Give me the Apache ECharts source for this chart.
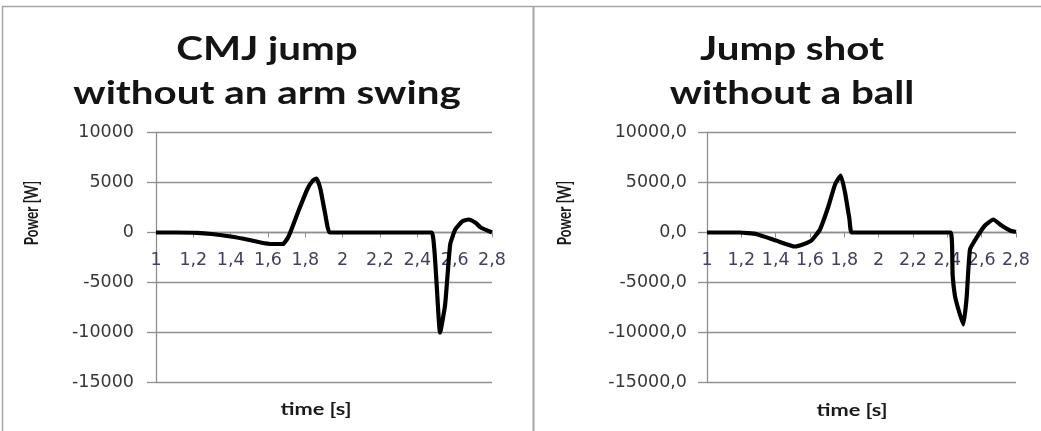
<!DOCTYPE html>
<html>
<head>
<meta charset="utf-8">
<script src="https://cdn.jsdelivr.net/npm/echarts@6/dist/echarts.min.js"></script>
<style>
  html, body { margin: 0; padding: 0; background: #fff; }
  #chart { width: 1041px; height: 431px; }
</style>
</head>
<body>
<div id="chart"></div>
<script>
// CMJ jump without an arm swing: time [s] and power [W]
const cmjTime  = [1.0, 1.1, 1.22, 1.3, 1.4, 1.5, 1.56, 1.62, 1.68, 1.71, 1.76, 1.81, 1.84, 1.86, 1.88, 1.905, 1.93, 2.0, 2.2, 2.4, 2.478, 2.522, 2.549, 2.576, 2.603, 2.64, 2.674, 2.71, 2.74, 2.8];
const cmjPower = [0, 0, -30, -150, -400, -750, -1000, -1150, -1150, -400, 2000, 4300, 5200, 5400, 4400, 2000, 0, 0, 0, 0, 0, -10000, -7200, -1200, 300, 1100, 1300, 1000, 500, 0];

// Jump shot without a ball: time [s] and power [W]
const shotTime  = [1.0, 1.19, 1.29, 1.406, 1.513, 1.562, 1.61, 1.658, 1.707, 1.746, 1.779, 1.804, 1.83, 1.843, 2.0, 2.2, 2.419, 2.431, 2.444, 2.463, 2.493, 2.512, 2.532, 2.571, 2.619, 2.668, 2.716, 2.765, 2.8];
const shotPower = [0, 0, -170, -830, -1400, -1170, -770, 300, 2600, 4800, 5700, 4000, 1300, 0, 0, 0, 0, -4300, -6300, -7600, -9200, -6600, -1700, -500, 700, 1300, 700, 200, 50];

// Axis ticks
const timeTicks  = { min: 1, max: 2.8, step: 0.2 };
const powerTicks = { min: -15000, max: 10000, step: 5000 };

// Panel headings, one entry per line
const titleLines = [['CMJ jump', 'without an arm swing'], ['Jump shot', 'without a ball']];
const powerName = 'Power [W]';
const timeName = 'time [s]';

const pair = (xs, ys) => xs.map((x, i) => [x, ys[i]]);
const headFont = 'Lato, "Open Sans", sans-serif';
const tickFont = '"DejaVu Sans", Verdana, sans-serif';
const gridColor = '#8f8f8f';

// Plot boxes (pixels); the time axis sits on the zero power line
const GRID_TOP = 132.5, GRID_BOTTOM = 48.5, H = 431;
const plotH = H - GRID_TOP - GRID_BOTTOM;
const zeroShift = plotH * (0 - powerTicks.min) / (powerTicks.max - powerTicks.min);

function xAxisFor(gridIndex) {
  return {
    type: 'value', gridIndex, position: 'bottom', offset: -zeroShift,
    min: timeTicks.min, max: timeTicks.max, interval: timeTicks.step,
    axisLine: { onZero: false, lineStyle: { color: gridColor, width: 1.3 } },
    axisTick: { show: true, length: 5, lineStyle: { color: gridColor } },
    splitLine: { show: false },
    axisLabel: {
      margin: 19, color: '#453f5c', fontFamily: tickFont, fontSize: 17.5,
      hideOverlap: false,
      formatter: v => String(+v.toFixed(1)).replace('.', ',')
    }
  };
}

function yAxisFor(gridIndex, decimals, margin) {
  return {
    type: 'value', gridIndex,
    min: powerTicks.min, max: powerTicks.max, interval: powerTicks.step,
    axisLine: { show: true, lineStyle: { color: gridColor, width: 1.3 } },
    axisTick: { show: true, length: 9, lineStyle: { color: gridColor, width: 1.3 } },
    splitLine: { show: true, lineStyle: { color: gridColor, width: 1.3 } },
    axisLabel: {
      margin, color: '#383838', fontFamily: tickFont, fontSize: 17.5,
      formatter: v => decimals ? v.toFixed(1).replace('.', ',') : String(v)
    }
  };
}

function headingText(text, x, y) {
  return { type: 'text', x, y, scaleX: 1.26,
    style: { text, fontFamily: headFont, fontWeight: 'bold', fontSize: 32, fill: '#141414',
             align: 'center', verticalAlign: 'middle' } };
}

function label(text, x, y, rotated, size) {
  return { type: 'text', x, y,
    rotation: rotated ? Math.PI / 2 : 0,
    scaleX: rotated ? 1 : 1.28, scaleY: rotated ? 1.45 : 1,
    style: { text, fontFamily: headFont, fontWeight: 'bold', fontSize: size, fill: '#1a1a1a',
             align: 'center', verticalAlign: 'middle' } };
}

const chart = echarts.init(document.getElementById('chart'), null, { renderer: 'canvas' });

chart.setOption({
  backgroundColor: '#fff',
  animation: false,
  grid: [
    { left: 156, right: 549, top: GRID_TOP, bottom: GRID_BOTTOM },
    { left: 707, right: 25, top: GRID_TOP, bottom: GRID_BOTTOM }
  ],
  xAxis: [xAxisFor(0), xAxisFor(1)],
  yAxis: [yAxisFor(0, false, 22), yAxisFor(1, true, 20)],
  series: [
    { type: 'line', xAxisIndex: 0, yAxisIndex: 0, data: pair(cmjTime, cmjPower),
      showSymbol: false, smooth: 0.15, lineStyle: { color: '#000', width: 4.2 } },
    { type: 'line', xAxisIndex: 1, yAxisIndex: 1, data: pair(shotTime, shotPower),
      showSymbol: false, smooth: 0.15, lineStyle: { color: '#000', width: 4.2 } }
  ],
  graphic: [
    // panel frame
    { type: 'polyline', shape: { points: [[2.5, 431], [2.5, 6.5], [1041, 6.5]] },
      style: { stroke: '#a6a6a6', lineWidth: 1.5, fill: null } },
    { type: 'line', shape: { x1: 533.5, y1: 6.5, x2: 533.5, y2: 431 },
      style: { stroke: '#a6a6a6', lineWidth: 2 } },
    // headings
    headingText(titleLines[0][0], 267, 50),
    headingText(titleLines[0][1], 267, 94),
    headingText(titleLines[1][0], 792, 50),
    headingText(titleLines[1][1], 792, 94),
    // axis names
    label(powerName, 32, 213, true, 13.5),
    label(powerName, 565, 213, true, 13.5),
    label(timeName, 316, 410, false, 17),
    label(timeName, 852, 411, false, 17)
  ]
});
</script>
</body>
</html>
